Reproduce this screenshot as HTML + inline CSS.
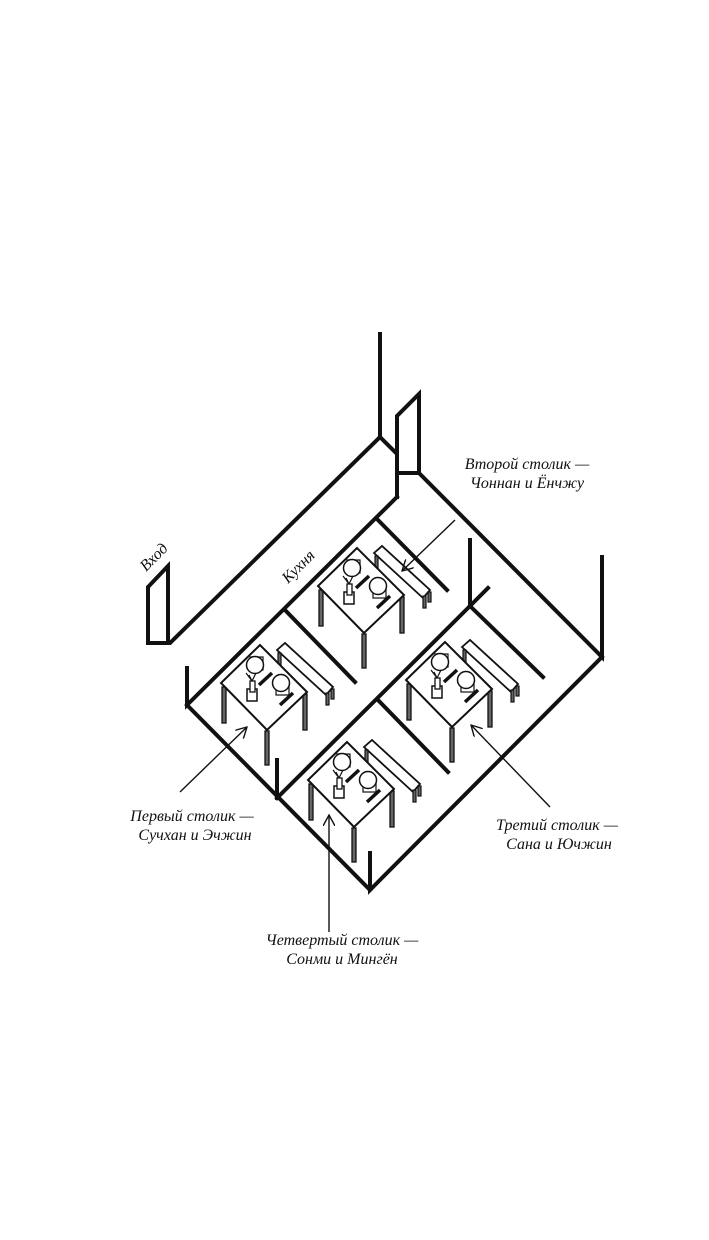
<!DOCTYPE html>
<html><head><meta charset="utf-8"><style>
html,body{margin:0;padding:0;background:#fff;}
svg{display:block}
text{font-family:"Liberation Serif",serif;font-style:italic;font-size:16px;fill:#111}
</style></head><body>
<svg width="709" height="1240" viewBox="0 0 709 1240" xmlns="http://www.w3.org/2000/svg">
<defs>
<marker id="ah" markerWidth="12" markerHeight="12" refX="11" refY="6" orient="auto" markerUnits="userSpaceOnUse">
<path d="M0,0 L11,6 L0,12" fill="none" stroke="#111" stroke-width="1.4"/>
</marker>
<g id="tbl" stroke="#111" fill="#fff">
  <polygon points="17,5 25,-2 73,42 66,50" stroke-width="1.8"/>
  <rect x="18" y="8" width="3" height="12" stroke-width="1.2" fill="#666"/>
  <rect x="66" y="48" width="3" height="12" stroke-width="1.2" fill="#666"/>
  <rect x="71" y="44" width="3" height="10" stroke-width="1.2" fill="#666"/>
  <rect x="-38" y="42" width="4" height="36" stroke-width="1.3" fill="#666"/>
  <rect x="5" y="86" width="4" height="34" stroke-width="1.3" fill="#666"/>
  <rect x="43" y="49" width="4" height="36" stroke-width="1.3" fill="#666"/>
  <polygon points="0,0 -39,38 7,85 47,47" stroke-width="2"/>
  <rect x="-10" y="12" width="13" height="13" stroke-width="1.2"/>
  <circle cx="-5" cy="20" r="8.5" stroke-width="1.5"/>
  <rect x="16" y="37" width="13" height="13" stroke-width="1.2"/>
  <circle cx="21" cy="38" r="8.5" stroke-width="1.5"/>
  <line x1="-1" y1="40" x2="12" y2="28" stroke-width="3.5"/>
  <line x1="20" y1="60" x2="33" y2="48" stroke-width="3.5"/>
  <rect x="-13" y="44" width="10" height="12" stroke-width="1.5"/>
  <rect x="-10" y="36" width="5" height="11" stroke-width="1.3"/>
  <path d="M-8,36 L-14,28 M-8,36 L-4,28 M-8,36 L-11,30" fill="none" stroke-width="1.2"/>
</g>
</defs>
<g fill="none" stroke="#111" stroke-width="4" stroke-linecap="square" stroke-linejoin="miter">
  <polyline points="380,334 380,437 170,643 148,643 148,587 168,566 168,643"/>
  <polyline points="380,437 397,454 397,497"/>
  <polyline points="397,454 397,416 419,394 419,473 397,473"/>
  <polyline points="419,473 602,657 602,557"/>
  <polyline points="602,657 370,890 370,853"/>
  <polyline points="397,497 187,705 187,668"/>
  <polyline points="187,705 370,890"/>
  <line x1="277" y1="798" x2="277" y2="760"/>
  <polyline points="277,798 470,606 488,588"/>
  <line x1="470" y1="606" x2="470" y2="540"/>
  <line x1="377" y1="519" x2="447" y2="590"/>
  <line x1="285" y1="610" x2="355" y2="682"/>
  <line x1="378" y1="700" x2="448" y2="772"/>
  <line x1="470" y1="606" x2="543" y2="677"/>
</g>
<use href="#tbl" x="260" y="645"/>
<use href="#tbl" x="357" y="548"/>
<use href="#tbl" x="445" y="642"/>
<use href="#tbl" x="347" y="742"/>
<g stroke="#111" stroke-width="1.4" fill="none">
  <line x1="455" y1="520" x2="402" y2="571" marker-end="url(#ah)"/>
  <line x1="180" y1="792" x2="247" y2="727" marker-end="url(#ah)"/>
  <line x1="550" y1="807" x2="471" y2="725" marker-end="url(#ah)"/>
  <line x1="329" y1="932" x2="329" y2="815" marker-end="url(#ah)"/>
</g>
<text x="527" y="469" text-anchor="middle">Второй столик —</text>
<text x="527" y="488" text-anchor="middle">Чоннан и Ёнчжу</text>
<text x="192" y="821" text-anchor="middle">Первый столик —</text>
<text x="195" y="840" text-anchor="middle">Сучхан и Эчжин</text>
<text x="557" y="830" text-anchor="middle">Третий столик —</text>
<text x="559" y="849" text-anchor="middle">Сана и Ючжин</text>
<text x="342" y="945" text-anchor="middle">Четвертый столик —</text>
<text x="342" y="964" text-anchor="middle">Сонми и Мингён</text>
<text transform="translate(146,572) rotate(-45)" font-size="14">Вход</text>
<text transform="translate(288,584) rotate(-45)" font-size="14">Кухня</text>
</svg>
</body></html>
